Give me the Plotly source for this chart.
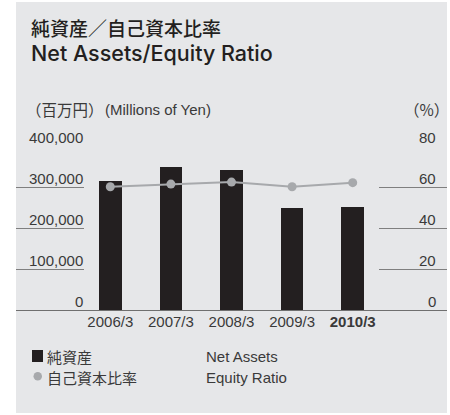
import plotly.graph_objects as go

# --- data ---
years = ["2006/3", "2007/3", "2008/3", "2009/3", "2010/3"]
year_labels = ["2006/3", "2007/3", "2008/3", "2009/3", "<b>2010/3</b>"]
net_assets = [317000, 351000, 344000, 252000, 254000]      # millions of yen
equity_ratio = [60.6, 61.9, 62.9, 60.6, 62.6]              # %
left_ticks = [0, 100000, 200000, 300000, 400000]
left_tick_text = ["0", "100,000", "200,000", "300,000", "400,000"]
right_ticks = [0, 20, 40, 60, 80]
right_tick_text = ["0", "20", "40", "60", "80"]

# --- layout geometry (pixels) ---
W, H = 450, 415
L, R, T, B = 80, 67, 147, 104
PW, PH = W - L - R, H - T - B
Y1MAX, Y2MAX = 400000, 80

def px(x):
    return (x - L) / PW

def py(y):
    return (H - B - y) / PH

FONT = "Liberation Sans, Noto Sans CJK JP, sans-serif"
JP = "Noto Sans CJK JP, sans-serif"
TXT = "#3a3a3a"
BAR = "#231f20"
LINE = "#a7a9ac"
PANEL = "#e6e7e9"
GRID = "#7f7f7f"

fig = go.Figure()
fig.add_trace(go.Bar(
    x=years, y=net_assets, marker=dict(color=BAR, line=dict(width=0)),
    width=0.375, yaxis="y", hoverinfo="skip",
))
fig.add_trace(go.Scatter(
    x=years, y=equity_ratio, yaxis="y2", mode="lines+markers",
    line=dict(color=LINE, width=2), marker=dict(color=LINE, size=9),
    hoverinfo="skip",
))

# half a pixel in data units keeps 1px rules crisp
h1 = 0.5 * Y1MAX / PH
h2 = 0.5 * Y2MAX / PH

shapes = [
    # background panel
    dict(type="rect", xref="paper", yref="paper", x0=px(16), x1=px(447),
         y0=py(413), y1=py(2), fillcolor=PANEL, line=dict(width=0), layer="below"),
    # baseline
    dict(type="line", xref="paper", yref="y", x0=px(16), x1=px(447), y0=h1, y1=h1,
         line=dict(color="#6f6f6f", width=1), layer="above"),
    # legend swatches
    dict(type="rect", xref="paper", yref="paper", x0=px(32), x1=px(43),
         y0=py(362), y1=py(350), fillcolor=BAR, line=dict(width=0)),
    dict(type="circle", xref="paper", yref="paper", x0=px(33.5), x1=px(42),
         y0=py(380.5), y1=py(372), fillcolor=LINE, line=dict(width=0)),
]
annotations = []
for v, t in zip(left_ticks, left_tick_text):
    if v:
        shapes.append(dict(type="line", xref="paper", yref="y", x0=px(16), x1=px(84),
                           y0=v + h1, y1=v + h1, line=dict(color=GRID, width=1)))
    annotations.append(dict(xref="paper", yref="y", x=px(84.5), y=v, text=t,
                            xanchor="right", yanchor="bottom", showarrow=False,
                            yshift=-1, font=dict(size=15, color=TXT, family=FONT)))
for v, t in zip(right_ticks, right_tick_text):
    if v:
        shapes.append(dict(type="line", xref="paper", yref="y2", x0=px(379), x1=px(447),
                           y0=v + h2, y1=v + h2, line=dict(color=GRID, width=1)))
    annotations.append(dict(xref="paper", yref="y2", x=px(438), y=v, text=t,
                            xanchor="right", yanchor="bottom", showarrow=False,
                            yshift=-1, font=dict(size=15, color=TXT, family=FONT)))

def label(x, y, text, size=15, anchor="left", weight=None, color=TXT, family=FONT):
    f = dict(size=size, color=color, family=family)
    if weight:
        f["weight"] = weight
    annotations.append(dict(xref="paper", yref="paper", x=px(x), y=py(y), text=text,
                            xanchor=anchor, yanchor="middle", showarrow=False,
                            borderpad=0, font=f))

# titles
label(30, 27, "純資産／自己資本比率", size=19, weight=500, color="#231f20", family=JP)
label(30, 53, "Net Assets/Equity Ratio", size=21.5, weight=500, color="#231f20",
      family="Inter, Liberation Sans, sans-serif")
# units
label(25, 109, "（百万円）", size=15.5, family=JP)
label(104, 109, "(Millions of Yen)", size=15)
label(450, 109, "（%）", size=15.5, anchor="right", family=JP)
# legend
label(46, 356, "純資産", size=15, family=JP)
label(46, 377, "自己資本比率", size=15, family=JP)
label(205, 356, "Net Assets", size=15)
label(205, 377, "Equity Ratio", size=15)

fig.update_layout(
    width=W, height=H, margin=dict(l=L, r=R, t=T, b=B),
    paper_bgcolor="white", plot_bgcolor="rgba(0,0,0,0)",
    showlegend=False, shapes=shapes, annotations=annotations,
    xaxis=dict(tickvals=years, ticktext=year_labels, showgrid=False, zeroline=False,
               showline=False, ticks="", tickfont=dict(size=15, color=TXT, family=FONT),
               range=[-0.5, 4.5], fixedrange=True),
    yaxis=dict(range=[0, Y1MAX], showgrid=False, zeroline=False, showticklabels=False,
               showline=False, fixedrange=True),
    yaxis2=dict(range=[0, Y2MAX], overlaying="y", side="right", showgrid=False,
                zeroline=False, showticklabels=False, showline=False, fixedrange=True),
    bargap=0,
)

fig.write_html("out.html")
